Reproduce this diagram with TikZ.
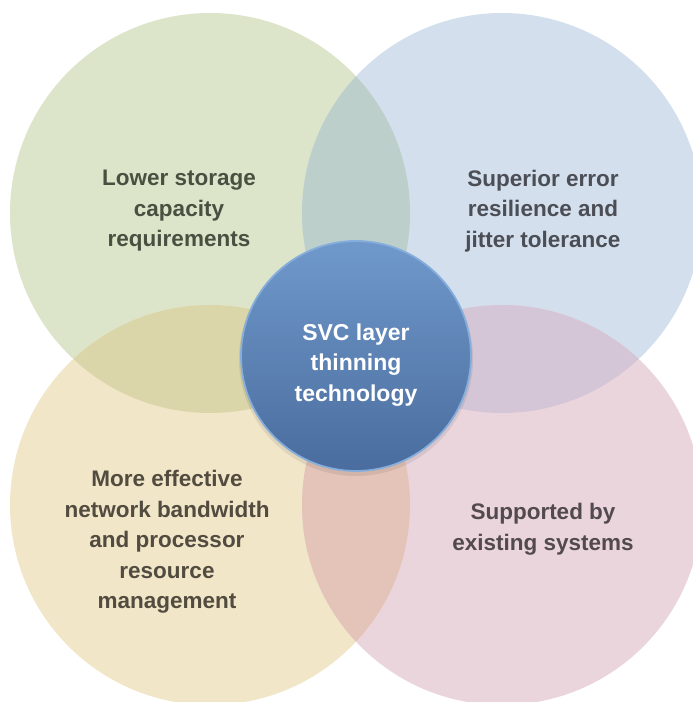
\documentclass[tikz,border=0pt]{standalone}
\usepackage{fontspec}
\setmainfont{Liberation Sans}
\definecolor{cgreen}{HTML}{DCE5C9}
\definecolor{cblue}{HTML}{D3DFEC}
\definecolor{corange}{HTML}{F2E6C9}
\definecolor{cpink}{HTML}{EAD5DC}
\definecolor{cgb}{HTML}{BCCFCB}
\definecolor{cgo}{HTML}{DAD6A9}
\definecolor{cbp}{HTML}{D4C6D6}
\definecolor{cop}{HTML}{E4C4B8}
\definecolor{ctop}{HTML}{7099CB}
\definecolor{cbot}{HTML}{4A6C9E}
\definecolor{cedge}{HTML}{86AEDC}
\definecolor{tgreen}{HTML}{4A5041}
\definecolor{tblue}{HTML}{4C4E56}
\definecolor{torange}{HTML}{524C40}
\definecolor{tpink}{HTML}{524A4E}
\tikzset{
  lbl/.style={align=center, font=\bfseries\fontsize{22.5}{30.5}\selectfont},
}
\begin{document}
\begin{tikzpicture}[x=1pt,y=1pt]
\useasboundingbox (0,0) rectangle (693,702);
\clip (0,0) rectangle (693,702);
% base circles
\coordinate (G) at (210,489);
\coordinate (B) at (502,489);
\coordinate (O) at (210,197);
\coordinate (P) at (502,197);
\fill[cgreen] (G) circle (200);
\fill[cblue] (B) circle (200);
\fill[corange] (O) circle (200);
\fill[cpink] (P) circle (200);
% overlaps
\begin{scope}\clip (G) circle (200); \fill[cgb] (B) circle (200); \end{scope}
\begin{scope}\clip (G) circle (200); \fill[cgo] (O) circle (200); \end{scope}
\begin{scope}\clip (B) circle (200); \fill[cbp] (P) circle (200); \end{scope}
\begin{scope}\clip (O) circle (200); \fill[cop] (P) circle (200); \end{scope}
% texts
\node[lbl, text=tgreen] (tl) at (179,491) {Lower storage\\capacity\\requirements};
\node[lbl, text=tblue] (tr) at (543,491) {Superior error\\resilience and\\jitter tolerance};
\node[lbl, text=torange] (bl) at (167,160) {More effective\\network bandwidth\\and processor\\resource\\management};
\node[lbl, text=tpink] (br) at (543,173) {Supported by\\existing systems};
% center
\fill[black, opacity=0.08] (356,343) circle (117);
\node[circle, minimum size=230pt, inner sep=0pt, draw=cedge, line width=1.8pt,
      top color=ctop, bottom color=cbot] (c) at (356,346) {};
\node[lbl, text=white, font=\bfseries\fontsize{23}{30.5}\selectfont] (ct) at (356,337) {SVC layer\\thinning\\technology};
\end{tikzpicture}
\end{document}
